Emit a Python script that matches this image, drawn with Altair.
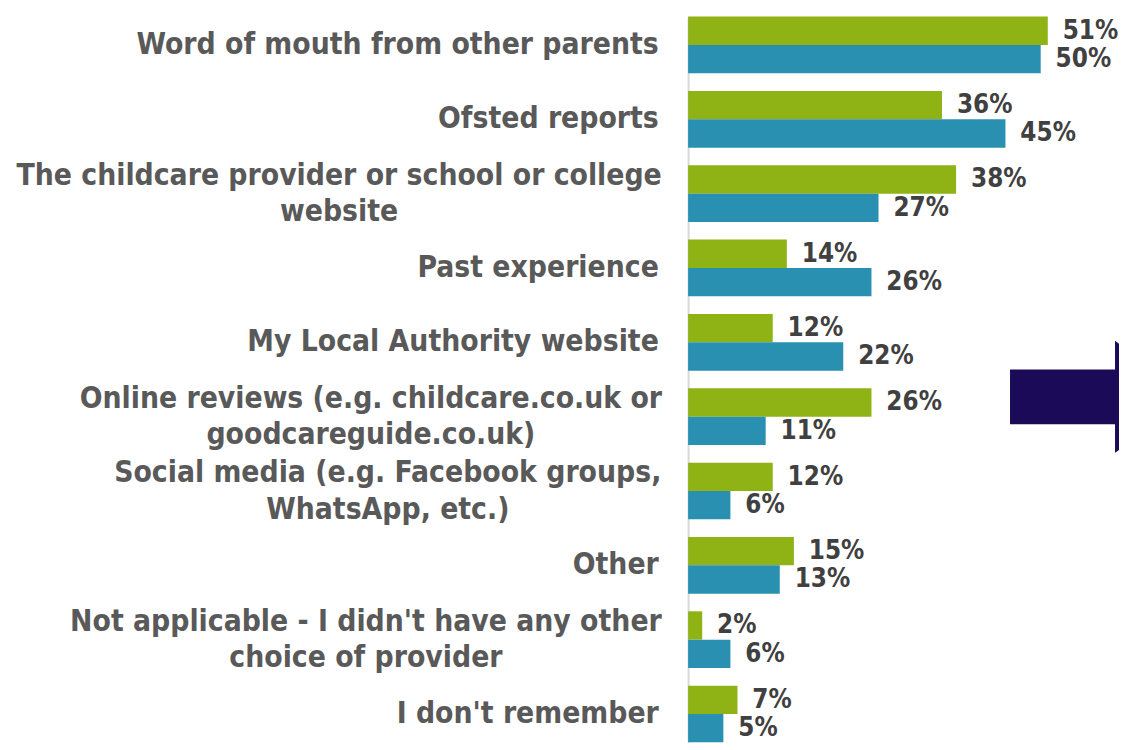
import altair as alt
import pandas as pd

categories = [
    "Word of mouth from other parents",
    "Ofsted reports",
    "The childcare provider or school or college\nwebsite",
    "Past experience",
    "My Local Authority website",
    "Online reviews (e.g. childcare.co.uk or\ngoodcareguide.co.uk)",
    "Social media (e.g. Facebook groups,\nWhatsApp, etc.)",
    "Other",
    "Not applicable - I didn't have any other\nchoice of provider",
    "I don't remember",
]
series = ["Series A", "Series B"]
values_a = [51, 36, 38, 14, 12, 26, 12, 15, 2, 7]
values_b = [50, 45, 27, 26, 22, 11, 6, 13, 6, 5]
colors = ["#8fb315", "#2a90b2"]

rows = []
for c, a, b in zip(categories, values_a, values_b):
    rows.append({"cat": c, "series": series[0], "value": a, "label": f"{a}%"})
    rows.append({"cat": c, "series": series[1], "value": b, "label": f"{b}%"})
df = pd.DataFrame(rows)

FONT = "DejaVu Sans Condensed"
GAP = 30
# approximate half widths (px) of the first line of each two-line label, for centring the block
half_widths = {"The childcare": 322, "Online reviews": 290, "Social media": 273, "Not applicable": 295}

pad_conditions = [
    {"test": f"indexof(datum.label, '{k}') >= 0", "value": GAP + w} for k, w in half_widths.items()
]

y_enc = alt.Y(
    "cat:N",
    sort=categories,
    scale=alt.Scale(paddingInner=0.237, paddingOuter=0),
    axis=alt.Axis(
        title=None,
        ticks=False,
        grid=False,
        labelExpr="split(datum.label, '\\n')",
        labelFont=FONT,
        labelFontWeight="bold",
        labelFontSize=30,
        labelColor="#595959",
        labelLineHeight=37,
        labelPadding={"condition": pad_conditions, "value": GAP},
        labelAlign={"condition": {"test": "indexof(datum.label, '\\n') >= 0", "value": "center"}, "value": "right"},
        labelLimit=700,
        labelOffset={"condition": {"test": "indexof(datum.label, '\\n') >= 0", "value": -18}, "value": 0},
        domainColor="#d9d9d9",
        domainWidth=2,
    ),
)
yoff = alt.YOffset("series:N", sort=series, scale=alt.Scale(paddingInner=0, paddingOuter=0))
x_enc = alt.X("value:Q", scale=alt.Scale(domain=[0, 61.1]), axis=None)

base = alt.Chart(df)
bars = base.mark_bar().encode(
    y=y_enc,
    yOffset=yoff,
    x=x_enc,
    color=alt.Color("series:N", sort=series, scale=alt.Scale(domain=series, range=colors), legend=None),
)
texts = base.mark_text(
    align="left", baseline="middle", dx=15, font=FONT, fontWeight="bold", fontSize=26, color="#404040"
).encode(y=y_enc, yOffset=yoff, x=x_enc, text="label:N")

arrow_df = pd.DataFrame({"k": [0]})
arrow = alt.Chart(arrow_df).mark_point(
    shape="M -1.875 -0.49 L 0 -0.49 L 0 -1 L 1.34 0 L 0 1 L 0 0.49 L -1.875 0.49 Z",
    filled=True,
    color="#1a0a57",
    opacity=1,
    size=12723,
    strokeWidth=0,
).encode(x=alt.value(430), y=alt.value(383))

chart = (
    alt.layer(bars, texts, arrow)
    .properties(width=434, height=731, padding={"left": 685, "top": 6, "right": 0, "bottom": 0}, autosize="none")
    .configure_view(stroke=None)
)
chart.save("out.html", embed_options={"renderer": "svg", "actions": False})
